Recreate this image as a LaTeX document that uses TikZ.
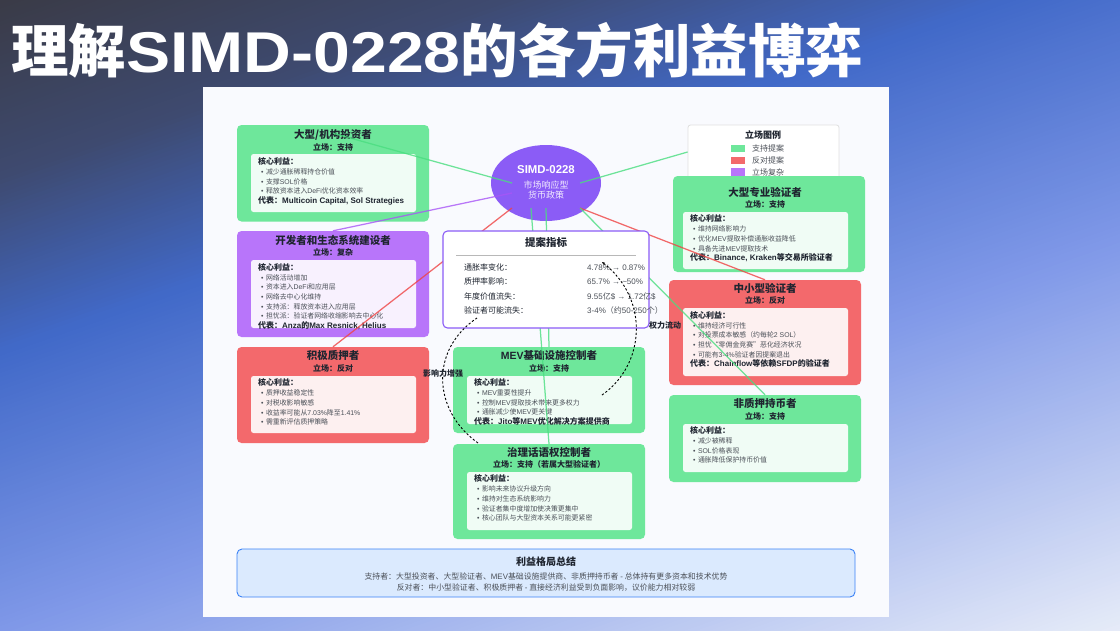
\documentclass[tikz,border=0pt]{standalone}
\usepackage{fontspec}
\usetikzlibrary{calc,arrows.meta,shapes.geometric}
\setmainfont{Noto Sans CJK SC}
\newfontfamily\latinf{Liberation Sans}
\newfontfamily\titlelat[FakeStretch=1.15]{Liberation Sans}
\newcommand\en[1]{{\latinf #1}}
\newcommand\cl{\char"FF1A\relax}
\newcommand\lp{\char"FF08\relax}
\newcommand\rp{\char"FF09\relax}
\newcommand\cm{\char"FF0C\relax}
\definecolor{gA}{HTML}{3A3B47}
\definecolor{gAB}{HTML}{3E4A70}
\definecolor{gB}{HTML}{4169C8}
\definecolor{gC}{HTML}{7F98E8}
\definecolor{gD}{HTML}{E8EDF8}
\definecolor{cgreen}{RGB}{110,231,155}
\definecolor{cred}{RGB}{243,105,108}
\definecolor{cpurple}{RGB}{184,117,250}
\definecolor{lgreen}{HTML}{4ADE80}
\definecolor{lred}{HTML}{EF4444}
\definecolor{lpurple}{HTML}{A855F7}
\definecolor{vio}{HTML}{8B5CF6}
\definecolor{paper}{HTML}{F9FAFE}
\definecolor{tdark}{HTML}{1F2530}
\definecolor{tmid}{HTML}{4B5058}
\definecolor{sumfill}{HTML}{DBEAFE}
\definecolor{sumline}{HTML}{3B82F6}
\newcounter{tn}
\tikzset{
  x=1pt,y=-1pt,
  card/.style={rectangle,rounded corners=4.5pt,inner sep=0,draw=none},
  innerbox/.style={rectangle,rounded corners=2.5pt,inner sep=0,draw=none,fill=white,fill opacity=.9},
  ctitle/.style={anchor=base,inner sep=0,yshift=-3.8pt,text=tdark,font=\fontsize{10.5}{11}\selectfont\bfseries},
  cstance/.style={anchor=base,inner sep=0,yshift=-2.9pt,text=tdark,font=\fontsize{8}{9}\selectfont\bfseries},
  ccore/.style={anchor=base west,inner sep=0,yshift=-2.9pt,text=tdark,font=\fontsize{8}{9}\selectfont\bfseries},
  citem/.style={anchor=base west,inner sep=0,yshift=-2.5pt,text=tmid,font=\fontsize{6.9}{8}\selectfont},
  mleft/.style={anchor=base west,inner sep=0,yshift=-2.9pt,text=tdark,font=\fontsize{8}{9}\selectfont},
  mright/.style={anchor=base west,inner sep=0,yshift=-2.9pt,text=tmid,font=\fontsize{8}{9}\selectfont},
  conn/.style={line width=1.25pt,opacity=.8},
  dashc/.style={line width=.9pt,black,dash pattern=on 2.2pt off 2pt},
  flowlabel/.style={inner sep=0,text=tdark,font=\fontsize{8}{9}\selectfont\bfseries},
  sumtext/.style={inner sep=0,text=tmid,font=\fontsize{7.9}{9}\selectfont},
}
\newcommand\boxat[6]{% name x0 y0 x1 y1 style
  \pgfmathsetmacro\bw{#4-#2}\pgfmathsetmacro\bh{#5-#3}
  \pgfmathsetmacro\bx{(#2+#4)/2}\pgfmathsetmacro\by{(#3+#5)/2}
  \node[#6,minimum width=\bw pt,minimum height=\bh pt] (#1) at (\bx,\by) {};}
\newcommand\tx[4]{\stepcounter{tn}\node[#1] (t\arabic{tn}) at (#2,#3) {#4};}
\newcommand\bul[3]{\stepcounter{tn}\node[citem] (t\arabic{tn}) at (#1,#2) {\en{•}\kern2.4pt #3};}
\begin{document}
\begin{tikzpicture}
\useasboundingbox (0,0) rectangle (1120,630);
% background gradient
\begin{scope}
\clip (0,0) rectangle (1120,630);
\fill[gA] (0,0) rectangle (1120,630);
\begin{scope}[rotate=-70.7]
\foreach \i in {1,...,240}{
  \pgfmathsetmacro\t{\i/240}
  \pgfmathsetmacro\s{971*\t}
  \ifdim\t pt<.17pt
    \pgfmathsetmacro\p{100*\t/.17}\colorlet{bgc}{gAB!\p!gA}
  \else\ifdim\t pt<.34pt
    \pgfmathsetmacro\p{100*(\t-.17)/.17}\colorlet{bgc}{gB!\p!gAB}
  \else\ifdim\t pt<.61pt
    \pgfmathsetmacro\p{100*(\t-.34)/.27}\colorlet{bgc}{gC!\p!gB}
  \else
    \pgfmathsetmacro\p{100*(\t-.61)/.39}\colorlet{bgc}{gD!\p!gC}
  \fi\fi\fi
  \fill[bgc] (\s,-1600) rectangle (1200,1600);
}
\end{scope}
\end{scope}
% title
\node[anchor=base west,inner sep=0,text=white] (title) at (11,72) {\fontsize{57.5}{60}\selectfont\bfseries 理解{\titlelat SIMD-0228}的各方利益博弈};
% panel
\boxat{panel}{203}{87}{889}{617}{rectangle,inner sep=0,fill=paper}
% investors
\boxat{inv}{237}{125}{429}{221.5}{card,fill=cgreen}
\boxat{invin}{251}{154}{416}{212}{innerbox}
\tx{ctitle}{333}{135}{大型/机构投资者}
\tx{cstance}{333}{147.5}{立场\cl 支持}
\tx{ccore}{258}{162}{核心利益\cl}
\bul{261}{172}{减少通胀稀释持仓价值}
\bul{261}{181.5}{支撑\en{SOL}价格}
\bul{261}{191.3}{释放资本进入\en{DeFi}优化资本效率}
\tx{ccore}{258}{200.5}{代表\cl\en{Multicoin Capital, Sol Strategies}}
% developers
\boxat{dev}{237}{231}{429}{337}{card,fill=cpurple}
\boxat{devin}{251}{260}{416}{328}{innerbox}
\tx{ctitle}{333}{240.7}{开发者和生态系统建设者}
\tx{cstance}{333}{253}{立场\cl 复杂}
\tx{ccore}{258}{267.7}{核心利益\cl}
\bul{261}{277.7}{网络活动增加}
\bul{261}{287.2}{资本进入\en{DeFi}和应用层}
\bul{261}{297}{网络去中心化维持}
\bul{261}{306.7}{支持派\cl 释放资本进入应用层}
\bul{261}{316.2}{担忧派\cl 验证者网络收缩影响去中心化}
\tx{ccore}{258}{325.7}{代表\cl\en{Anza}的\en{Max Resnick, Helius}}
% active stakers
\boxat{act}{237}{347}{429}{443}{card,fill=cred}
\boxat{actin}{251}{376}{416}{433}{innerbox}
\tx{ctitle}{333}{356}{积极质押者}
\tx{cstance}{333}{369}{立场\cl 反对}
\tx{ccore}{258}{383}{核心利益\cl}
\bul{261}{393}{质押收益稳定性}
\bul{261}{403}{对税收影响敏感}
\bul{261}{412.5}{收益率可能从\en{7.03\%}降至\en{1.41\%}}
\bul{261}{422}{需重新评估质押策略}
% legend
\boxat{legend}{688}{125}{839}{179}{rectangle,rounded corners=2.5pt,inner sep=0,fill=white,draw=black!12,line width=.8pt}
\tx{anchor=base,inner sep=0,yshift=-3.2pt,text=tdark,font=\fontsize{9}{10}\selectfont\bfseries}{763}{135}{立场图例}
\boxat{sw1}{731}{145}{745}{152}{rectangle,inner sep=0,fill=cgreen}
\boxat{sw2}{731}{157}{745}{164}{rectangle,inner sep=0,fill=cred}
\boxat{sw3}{731}{168}{745}{176}{rectangle,inner sep=0,fill=cpurple}
\tx{mright}{752}{148.7}{支持提案}
\tx{mright}{752}{161}{反对提案}
\tx{mright}{752}{172.3}{立场复杂}
% large validators
\boxat{big}{673}{176}{865}{272}{card,fill=cgreen}
\boxat{bigin}{683}{212}{848}{269}{innerbox}
\tx{ctitle}{765}{192.7}{大型专业验证者}
\tx{cstance}{765}{205}{立场\cl 支持}
\tx{ccore}{690}{219}{核心利益\cl}
\bul{693}{229.3}{维持网络影响力}
\bul{693}{239}{优化\en{MEV}提取补偿通胀收益降低}
\bul{693}{248.5}{具备先进\en{MEV}提取技术}
\tx{ccore}{690}{258}{代表\cl\en{Binance, Kraken}等交易所验证者}
% mid validators
\boxat{mid}{669}{280}{861}{385}{card,fill=cred}
\boxat{midin}{683}{308}{848}{376}{innerbox}
\tx{ctitle}{765}{288.7}{中小型验证者}
\tx{cstance}{765}{301}{立场\cl 反对}
\tx{ccore}{690}{315.7}{核心利益\cl}
\bul{693}{325.5}{维持经济可行性}
\bul{693}{335}{对投票成本敏感\lp 约每轮\en{2 SOL}\rp}
\bul{693}{345}{担忧“零佣金竞赛”恶化经济状况}
\bul{693}{354.7}{可能有\en{3-4\%}验证者因提案退出}
\tx{ccore}{690}{364}{代表\cl\en{Chainflow}等依赖\en{SFDP}的验证者}
% non stakers
\boxat{non}{669}{395}{861}{482}{card,fill=cgreen}
\boxat{nonin}{683}{424}{848}{472}{innerbox}
\tx{ctitle}{765}{404}{非质押持币者}
\tx{cstance}{765}{417}{立场\cl 支持}
\tx{ccore}{690}{431}{核心利益\cl}
\bul{693}{441}{减少被稀释}
\bul{693}{450.7}{\en{SOL}价格表现}
\bul{693}{460}{通胀降低保护持币价值}
% MEV
\boxat{mev}{453}{347}{645}{433}{card,fill=cgreen}
\boxat{mevin}{467}{376}{632}{424}{innerbox}
\tx{ctitle}{549}{356}{\en{MEV}基础设施控制者}
\tx{cstance}{549}{368.5}{立场\cl 支持}
\tx{ccore}{474}{382.7}{核心利益\cl}
\bul{477}{392.7}{\en{MEV}重要性提升}
\bul{477}{402.7}{控制\en{MEV}提取技术带来更多权力}
\bul{477}{412.3}{通胀减少使\en{MEV}更关键}
\tx{ccore}{474}{421.7}{代表\cl\en{Jito}等\en{MEV}优化解决方案提供商}
% governance
\boxat{gov}{453}{444}{645}{539}{card,fill=cgreen}
\boxat{govin}{467}{472}{632}{530}{innerbox}
\tx{ctitle}{549}{452.5}{治理话语权控制者}
\tx{cstance}{549}{465}{立场\cl 支持\lp 若属大型验证者\rp}
\tx{ccore}{474}{479}{核心利益\cl}
\bul{477}{489.3}{影响未来协议升级方向}
\bul{477}{499}{维持对生态系统影响力}
\bul{477}{508.7}{验证者集中度增加使决策更集中}
\bul{477}{518}{核心团队与大型资本关系可能更紧密}
% summary
\boxat{sum}{237}{549}{855}{597}{rectangle,rounded corners=5pt,inner sep=0,fill=sumfill,draw=sumline,line width=.9pt}
\tx{anchor=base,inner sep=0,yshift=-3.6pt,text=tdark,font=\fontsize{10}{11}\selectfont\bfseries}{546}{561.7}{利益格局总结}
\tx{sumtext}{546}{576}{支持者\cl 大型投资者、大型验证者、\en{MEV}基础设施提供商、非质押持币者 \en{-} 总体持有更多资本和技术优势}
\tx{sumtext}{546}{588}{反对者\cl 中小型验证者、积极质押者 \en{-} 直接经济利益受到负面影响\cm 议价能力相对较弱}
% centre
\node[ellipse,inner sep=0,fill=vio,minimum width=110pt,minimum height=76pt] (simd) at (546,183) {};
% connectors
\draw[conn,lgreen] ($(simd)+(-34,0)$) -- ($(inv)+(0,-40)$);
\draw[conn,lpurple] ($(simd)+(-34,10)$) -- (dev.north);
\draw[conn,lred] ($(simd)+(-34,25)$) -- (act.north);
\draw[conn,lgreen] ($(simd)+(34,0)$) -- (legend.west);
\draw[conn,lred] ($(simd)+(34,25)$) -- (mid.north);
\draw[conn,lgreen] ($(simd)+(34,25)$) -- (non.north);
\draw[conn,lgreen] ($(simd)+(-15,25)$) -- (gov.north);
\draw[conn,lgreen] ($(simd)+(0,25)$) -- (mev.north);
% ellipse text
\node[inner sep=0,text=white,font=\fontsize{11.4}{12}\selectfont\bfseries] (simdt) at (546,170) {\en{SIMD-0228}};
\node[inner sep=0,text=white!88!vio,align=center,font=\fontsize{9}{9.6}\selectfont] (simds) at (546,190.3) {市场响应型\\货币政策};
% metrics
\boxat{met}{443}{231}{649}{328}{rectangle,rounded corners=4.5pt,inner sep=0,fill=white,draw=vio,line width=1.1pt}
\tx{anchor=base,inner sep=0,yshift=-3.8pt,text=tdark,font=\fontsize{10.5}{11}\selectfont\bfseries}{546}{243}{提案指标}
\coordinate (ruleL) at ($(met.west)+(14,-24.5)$);
\coordinate (ruleR) at ($(met.east)+(-14,-24.5)$);
\draw[black!28,line width=.7pt] (ruleL) -- (ruleR);
\tx{mleft}{464}{267.7}{通胀率变化\cl}
\tx{mleft}{464}{282}{质押率影响\cl}
\tx{mleft}{464}{296.3}{年度价值流失\cl}
\tx{mleft}{464}{311}{验证者可能流失\cl}
\tx{mright}{587}{267.7}{\en{4.78\% → 0.87\%}}
\tx{mright}{587}{282}{\en{65.7\% → \textasciitilde50\%}}
\tx{mright}{587}{296.3}{\en{9.55}亿\en{\$ → 1.72}亿\en{\$}}
\tx{mright}{587}{311}{\en{3-4\%}\lp 约\en{50-250}个\rp}
% dashed influence curves
\draw[dashc,-{Stealth[length=3pt,width=2.6pt]}] ($(mevin)+(52.5,-5)$) .. controls ($(mev)+(96,-25)$) and ($(met)+(104,20)$) .. ($(met)+(56,-17.5)$);
\draw[dashc] ($(gov)+(-71,-48.5)$) .. controls ($(gov)+(-117,-81.5)$) and ($(met)+(-116,70)$) .. ($(met)+(-69,38.5)$);
\node[flowlabel] (lab1) at (665,325) {权力流动};
\node[flowlabel] (lab2) at (443,373) {影响力增强};
\end{tikzpicture}
\end{document}
